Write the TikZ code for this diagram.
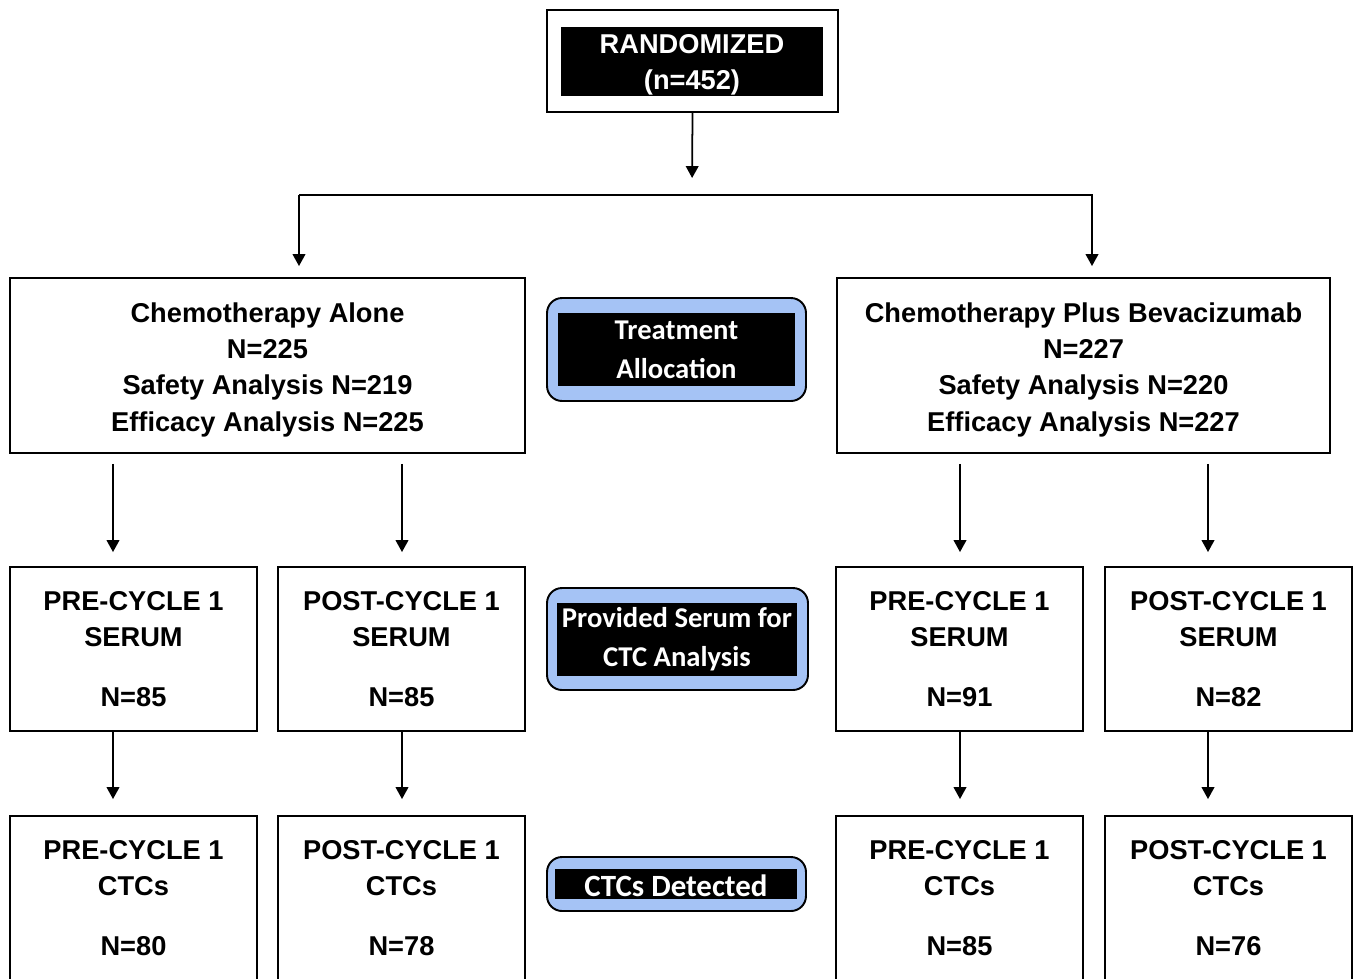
\documentclass[tikz,border=0pt]{standalone}
\usepackage{fontspec}
\setmainfont{Liberation Sans}
\newfontfamily\tagfont{Carlito}
\usepackage{tikz}
\usetikzlibrary{arrows.meta,calc,positioning}
\definecolor{tagblue}{RGB}{165,195,245}

\begin{document}
\begin{tikzpicture}[x=0.02cm, y=-0.02cm,
    box/.style={draw, line width=1.1pt, inner sep=0pt, align=center,
      font=\fontsize{15.5}{20.7}\selectfont\bfseries},
    armbox/.style={box, minimum width=10.3cm, minimum height=3.5cm},
    smallbox/.style={box, minimum width=4.94cm, minimum height=3.28cm},
    darkbox/.style={fill=black, text=white, inner sep=0pt, align=center},
    tagbox/.style={draw, line width=1.1pt, fill=tagblue, rounded corners=0.3cm,
      inner sep=0pt},
    tagtext/.style={darkbox, font=\tagfont\fontsize{16.3}{22}\selectfont\bfseries},
    arr/.style={line width=1pt, -{Triangle[length=6.8pt,width=7.2pt]}}]
  \useasboundingbox (0,0) rectangle (1356,978);

  % Randomization box
  \node[box, minimum width=5.82cm, minimum height=2.04cm] (rand) at (692.5,61) {};
  \node[darkbox, minimum width=5.24cm, minimum height=1.34cm,
    font=\fontsize{15.5}{20.5}\selectfont\bfseries] (randtxt) at (692,61.5)
    {\rule{0pt}{15pt}RANDOMIZED\\(n=452)};

  % Split to the two arms
  \coordinate (split) at (692,195);
  \coordinate (forkA) at (299,195);
  \coordinate (forkB) at (1092,195);

  % Treatment arms
  \node[armbox] (armA) at (267.5,365.5)
    {\rule{0pt}{15.8pt}Chemotherapy Alone\\N=225\\Safety Analysis N=219\\Efficacy Analysis N=225};
  \node[armbox, minimum width=9.86cm] (armB) at (1083.5,365.5)
    {\rule{0pt}{15.8pt}Chemotherapy Plus Bevacizumab\\N=227\\Safety Analysis N=220\\Efficacy Analysis N=227};

  % Side labels
  \node[tagbox, minimum width=5.18cm, minimum height=2.06cm] (tagAlloc) at (676.5,349.5) {};
  \node[tagtext, minimum width=4.74cm, minimum height=1.46cm] (alloctxt) at (676.5,349.5)
    {Treatment\\Allocation};
  \node[tagbox, minimum width=5.22cm, minimum height=2.04cm] (tagSerum) at (677.5,639) {};
  \node[tagtext, minimum width=4.8cm, minimum height=1.46cm] (serumtxt) at (677,639.5)
    {Provided Serum for\\CTC Analysis};
  \node[tagbox, minimum width=5.18cm, minimum height=1.08cm] (tagCTC) at (676.5,884) {};
  \node[tagtext, minimum width=4.84cm, minimum height=0.6cm,
    font=\tagfont\fontsize{17.6}{22}\selectfont\bfseries] (ctctxt) at (676,884)
    {\raisebox{-3pt}[8pt][0pt]{CTCs Detected}};

  % Serum boxes
  \node[smallbox] (preA) at (133.5,649) {PRE-CYCLE 1\\SERUM\\[13.6pt]N=85};
  \node[smallbox] (postA) at (401.5,649) {POST-CYCLE 1\\SERUM\\[13.6pt]N=85};
  \node[smallbox] (preB) at (959.5,649) {PRE-CYCLE 1\\SERUM\\[13.6pt]N=91};
  \node[smallbox] (postB) at (1228.5,649) {POST-CYCLE 1\\SERUM\\[13.6pt]N=82};

  % CTC boxes
  \node[smallbox] (ctcPreA) at (133.5,898) {PRE-CYCLE 1\\CTCs\\[13.6pt]N=80};
  \node[smallbox] (ctcPostA) at (401.5,898) {POST-CYCLE 1\\CTCs\\[13.6pt]N=78};
  \node[smallbox] (ctcPreB) at (959.5,898) {PRE-CYCLE 1\\CTCs\\[13.6pt]N=85};
  \node[smallbox] (ctcPostB) at (1228.5,898) {POST-CYCLE 1\\CTCs\\[13.6pt]N=76};

  % Arrow columns
  \coordinate (colA) at (113,0);
  \coordinate (colB) at (402,0);
  \coordinate (colC) at (960,0);
  \coordinate (colD) at (1208,0);

  % Connectors
  \draw[arr, shorten >=0.34cm] (rand.south) -- (split);
  \draw[arr, shorten >=0.22cm] (forkA) -- (armA.north -| forkA);
  \draw[arr, shorten >=0.22cm] (forkA) -- (forkB) -- (armB.north -| forkB);

  \draw[arr, shorten <=0.2cm, shorten >=0.28cm] (armA.south -| colA) -- (preA.north -| colA);
  \draw[arr, shorten <=0.2cm, shorten >=0.28cm] (armA.south -| colB) -- (postA.north -| colB);
  \draw[arr, shorten <=0.2cm, shorten >=0.28cm] (armB.south -| colC) -- (preB.north -| colC);
  \draw[arr, shorten <=0.2cm, shorten >=0.28cm] (armB.south -| colD) -- (postB.north -| colD);

  \draw[arr, shorten >=0.32cm] (preA.south -| colA) -- (ctcPreA.north -| colA);
  \draw[arr, shorten >=0.32cm] (postA.south -| colB) -- (ctcPostA.north -| colB);
  \draw[arr, shorten >=0.32cm] (preB.south -| colC) -- (ctcPreB.north -| colC);
  \draw[arr, shorten >=0.32cm] (postB.south -| colD) -- (ctcPostB.north -| colD);
\end{tikzpicture}
\end{document}
